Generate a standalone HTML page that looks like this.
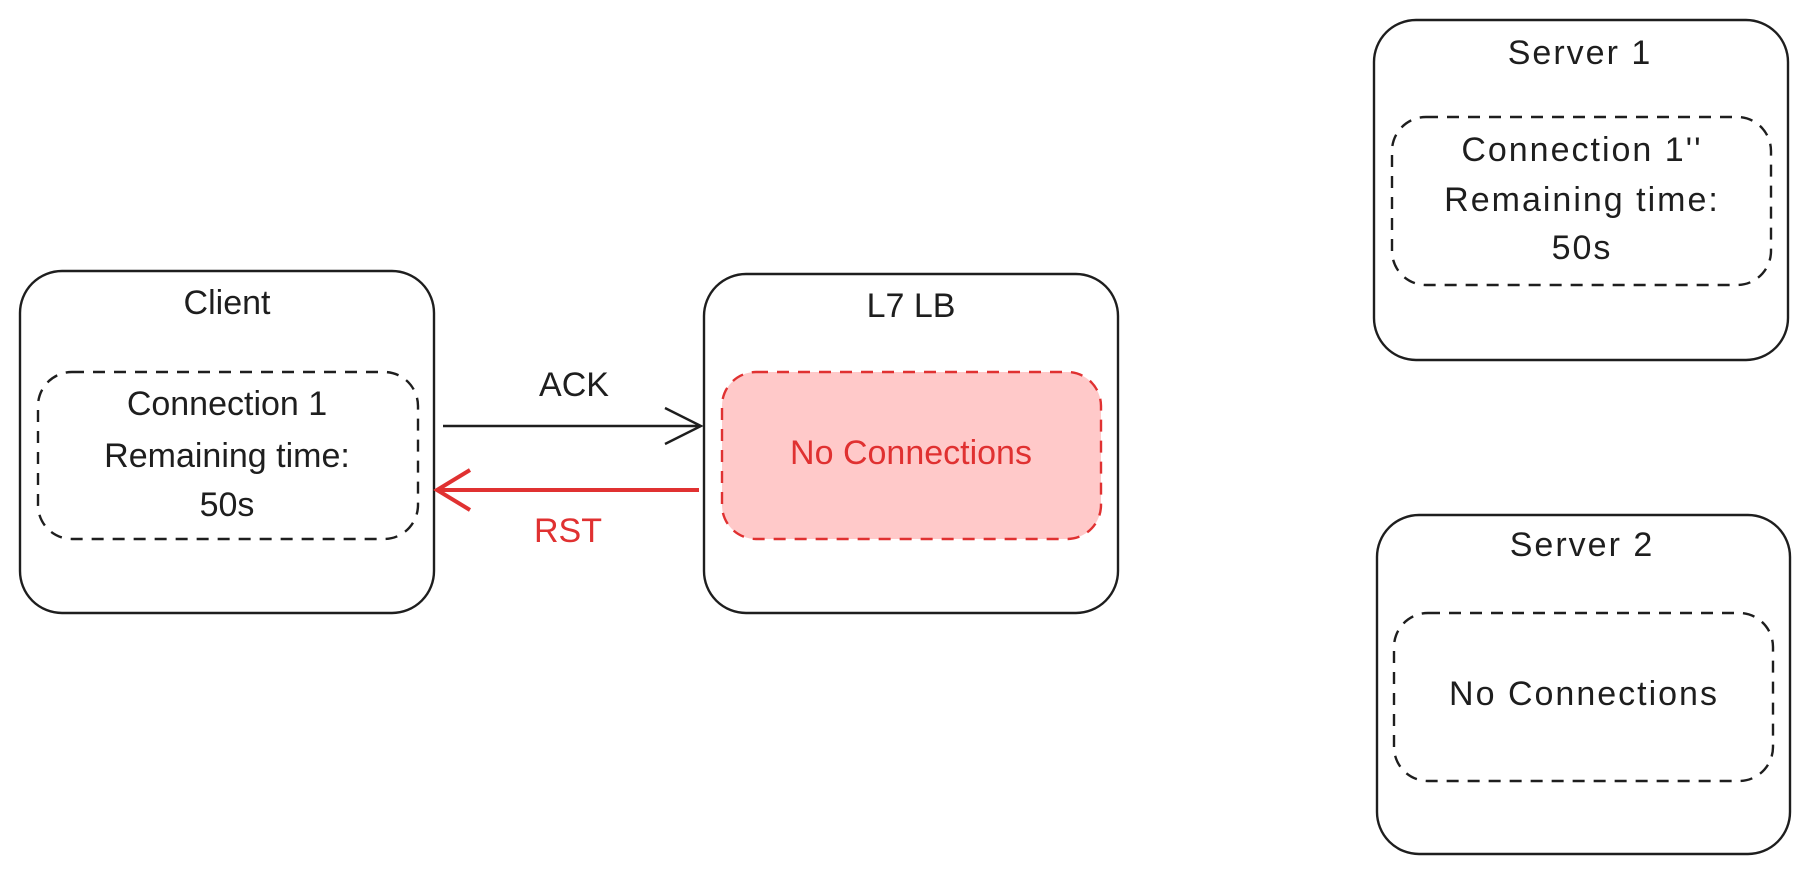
<!DOCTYPE html>
<html><head><meta charset="utf-8"><style>
html,body{margin:0;padding:0;background:#fff;}
svg{display:block;}
text{font-family:"Liberation Sans",sans-serif;text-anchor:middle;dominant-baseline:central;}
</style></head><body>
<svg width="1811" height="874" viewBox="0 0 1811 874" xmlns="http://www.w3.org/2000/svg">
<g fill="none" stroke="#1e1e1e" stroke-width="2.4">
<rect x="20" y="271" width="414" height="342" rx="42"/>
<rect x="704" y="274" width="414" height="339" rx="42"/>
<rect x="1374" y="20" width="414" height="340" rx="42"/>
<rect x="1377" y="515" width="413" height="339" rx="42"/>
<g stroke-dasharray="12 9">
<rect x="38" y="372" width="380" height="167" rx="34"/>
<rect x="1392" y="117" width="379" height="168" rx="34"/>
<rect x="1394" y="613" width="379" height="168" rx="34"/>
</g>
<rect x="722" y="372" width="379" height="167" rx="34" fill="#ffc9c9" stroke="#e03131" stroke-dasharray="12 9"/>
<path d="M443 426 L701 426 M665 408 L701 426 L665 444"/>
<path d="M699 490 L437 490 M470 470 L437 490 L470 510" stroke="#e03131" stroke-width="4"/>
</g>
<g font-size="34" fill="#1e1e1e">
<text x="227" y="303">Client</text>
<text x="227" y="404">Connection 1</text>
<text x="227" y="456">Remaining time:</text>
<text x="227" y="505">50s</text>
<text x="911" y="306">L7 LB</text>
<text x="911" y="453" fill="#e03131">No Connections</text>
<text x="574" y="385">ACK</text>
<text x="568" y="531" fill="#e03131">RST</text>
<g letter-spacing="2">
<text x="1580" y="53">Server 1</text>
<text x="1582" y="150">Connection 1''</text>
<text x="1582" y="200">Remaining time:</text>
<text x="1582" y="248">50s</text>
<text x="1582" y="545">Server 2</text>
<text x="1584" y="694">No Connections</text>
</g>
</g>
</svg>
</body></html>
